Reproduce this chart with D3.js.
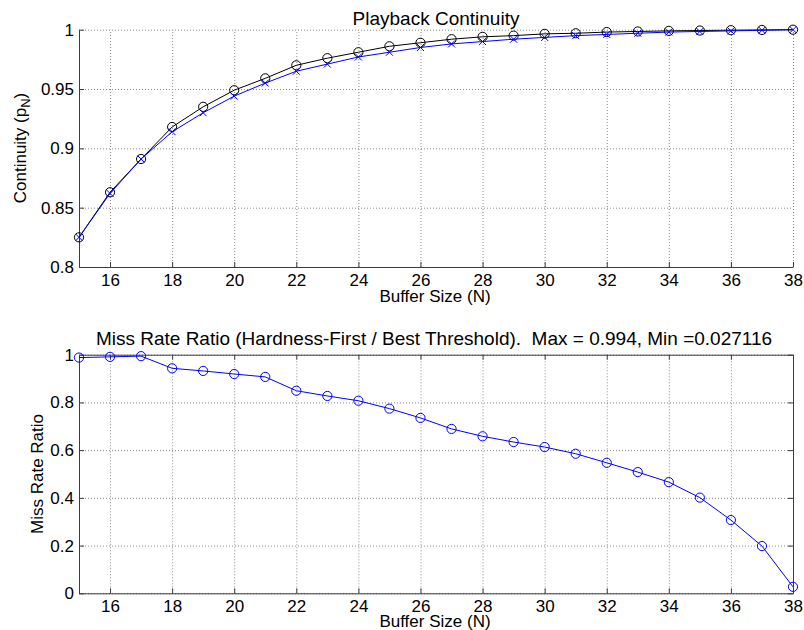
<!DOCTYPE html>
<html>
<head>
<meta charset="utf-8">
<script src="https://cdn.jsdelivr.net/npm/d3@7"></script>
<style>
  html, body { margin: 0; padding: 0; background: #fff; }
  svg { display: block; }
  text { font-family: "Liberation Sans", Arial, Helvetica, sans-serif; fill: #000; }
</style>
</head>
<body>
<svg id="fig" width="804" height="630"></svg>
<script>
// Buffer sizes on the x axis
const bufferSizes = [15,16,17,18,19,20,21,22,23,24,25,26,27,28,29,30,31,32,33,34,35,36,37,38];

// Playback continuity p_N for the two policies
const continuityBlack = [0.825,0.863,0.891,0.918,0.935,0.949,0.959,0.970,0.976,0.981,0.986,0.989,0.992,0.994,0.995,0.9965,0.997,0.998,0.9985,0.999,0.9993,0.9996,0.9998,1.0];
const continuityBlue  = [0.825,0.862,0.891,0.914,0.930,0.944,0.955,0.965,0.971,0.977,0.981,0.985,0.988,0.990,0.992,0.9935,0.995,0.996,0.997,0.998,0.9985,0.999,0.9995,1.0];

// Miss rate ratio (Hardness-First / Best Threshold)
const missRatio = [0.988,0.991,0.994,0.943,0.932,0.919,0.907,0.849,0.827,0.807,0.774,0.735,0.689,0.658,0.634,0.613,0.585,0.547,0.508,0.466,0.401,0.307,0.198,0.027116];

// Tick values
const xTicks = [16,18,20,22,24,26,28,30,32,34,36,38];
const yTicksTop = [0.8,0.85,0.9,0.95,1];
const yTicksBottom = [0,0.2,0.4,0.6,0.8,1];

const titleTop = "Playback Continuity";
const titleBottom = "Miss Rate Ratio (Hardness-First / Best Threshold).  Max = 0.994, Min =0.027116";
const xLabel = "Buffer Size (N)";
const yLabelBottom = "Miss Rate Ratio";

const svg = d3.select("#fig");
svg.append("rect").attr("width", 804).attr("height", 630).attr("fill", "#fff");

const axisColor = "#3c3c3c";
const gridColor = "#8a8a8a";
const fmt = d => String(d);

function panel(cfg) {
  const x = d3.scaleLinear().domain([15, 38]).range([79, 793]);
  const y = d3.scaleLinear().domain(cfg.yDomain).range([cfg.bottom, cfg.top]);
  const g = svg.append("g");
  const w = 793 - 79, h = cfg.bottom - cfg.top;

  // dotted grid
  g.append("g").attr("transform", `translate(0,${cfg.bottom})`)
    .call(d3.axisBottom(x).tickValues(xTicks).tickSize(-h).tickFormat(""))
    .call(s => s.select(".domain").remove())
    .call(s => s.selectAll("line").attr("stroke", gridColor).attr("stroke-dasharray", "1,2"));
  g.append("g").attr("transform", `translate(79,0)`)
    .call(d3.axisLeft(y).tickValues(cfg.yTicks).tickSize(-w).tickFormat(""))
    .call(s => s.select(".domain").remove())
    .call(s => s.selectAll("line").attr("stroke", gridColor).attr("stroke-dasharray", "1,2"));

  // axes with inward ticks
  g.append("g").attr("transform", `translate(0,${cfg.bottom})`)
    .call(d3.axisBottom(x).tickValues(xTicks).tickSize(-5).tickSizeOuter(0).tickPadding(7).tickFormat(fmt));
  g.append("g").attr("transform", `translate(79,0)`)
    .call(d3.axisLeft(y).tickValues(cfg.yTicks).tickSize(-5).tickSizeOuter(0).tickPadding(5).tickFormat(fmt));
  if (cfg.box) {
    g.append("g").attr("transform", `translate(0,${cfg.top})`)
      .call(d3.axisTop(x).tickValues(xTicks).tickSize(-5).tickSizeOuter(0).tickFormat(""));
    g.append("g").attr("transform", `translate(793,0)`)
      .call(d3.axisRight(y).tickValues(cfg.yTicks).tickSize(-5).tickSizeOuter(0).tickFormat(""));
  }
  g.selectAll(".domain, .tick line").filter(function () { return !this.getAttribute("stroke-dasharray"); })
    .attr("stroke", axisColor);
  g.selectAll(".tick text").attr("font-size", 17).attr("font-family", null).attr("fill", "#000");
  return { g, x, y };
}

function drawSeries(p, values, color, marker) {
  const pts = bufferSizes.map((b, i) => [b, values[i]]);
  const line = d3.line().x(d => p.x(d[0])).y(d => p.y(d[1]));
  p.g.append("path").datum(pts).attr("d", line)
    .attr("fill", "none").attr("stroke", color).attr("stroke-width", 1);
  if (marker === "o") {
    p.g.selectAll(null).data(pts).join("circle")
      .attr("cx", d => p.x(d[0])).attr("cy", d => p.y(d[1])).attr("r", 4.6)
      .attr("fill", "none").attr("stroke", color).attr("stroke-width", 1);
  } else {
    const s = 3.5;
    p.g.selectAll(null).data(pts).join("path")
      .attr("d", d => {
        const cx = p.x(d[0]), cy = p.y(d[1]);
        return `M${cx - s},${cy - s}L${cx + s},${cy + s}M${cx - s},${cy + s}L${cx + s},${cy - s}`;
      })
      .attr("fill", "none").attr("stroke", color).attr("stroke-width", 1);
  }
}

// Upper panel: playback continuity
const upper = panel({ yDomain: [0.8, 1], top: 29.7, bottom: 267, yTicks: yTicksTop, box: false });
drawSeries(upper, continuityBlack, "#000", "o");
drawSeries(upper, continuityBlue, "#0000ff", "x");

svg.append("text").attr("x", 436).attr("y", 25).attr("text-anchor", "middle")
  .attr("font-size", 19).text(titleTop);
svg.append("text").attr("x", 435).attr("y", 302).attr("text-anchor", "middle")
  .attr("font-size", 17).text(xLabel);
const yl = svg.append("text").attr("transform", "translate(26,148) rotate(-90)")
  .attr("text-anchor", "middle").attr("font-size", 17);
yl.append("tspan").text("Continuity (p");
yl.append("tspan").attr("font-size", 13).attr("dy", 4).text("N");
yl.append("tspan").attr("dy", -4).text(")");

// Lower panel: miss rate ratio
const lower = panel({ yDomain: [0, 1], top: 354.7, bottom: 593.3, yTicks: yTicksBottom, box: true });
drawSeries(lower, missRatio, "#0000ff", "o");

svg.append("text").attr("x", 434).attr("y", 345).attr("text-anchor", "middle")
  .attr("font-size", 19).style("white-space", "pre").text(titleBottom);
svg.append("text").attr("x", 435).attr("y", 627).attr("text-anchor", "middle")
  .attr("font-size", 17).text(xLabel);
svg.append("text").attr("transform", "translate(42.5,474) rotate(-90)")
  .attr("text-anchor", "middle").attr("font-size", 17).text(yLabelBottom);
</script>
</body>
</html>
